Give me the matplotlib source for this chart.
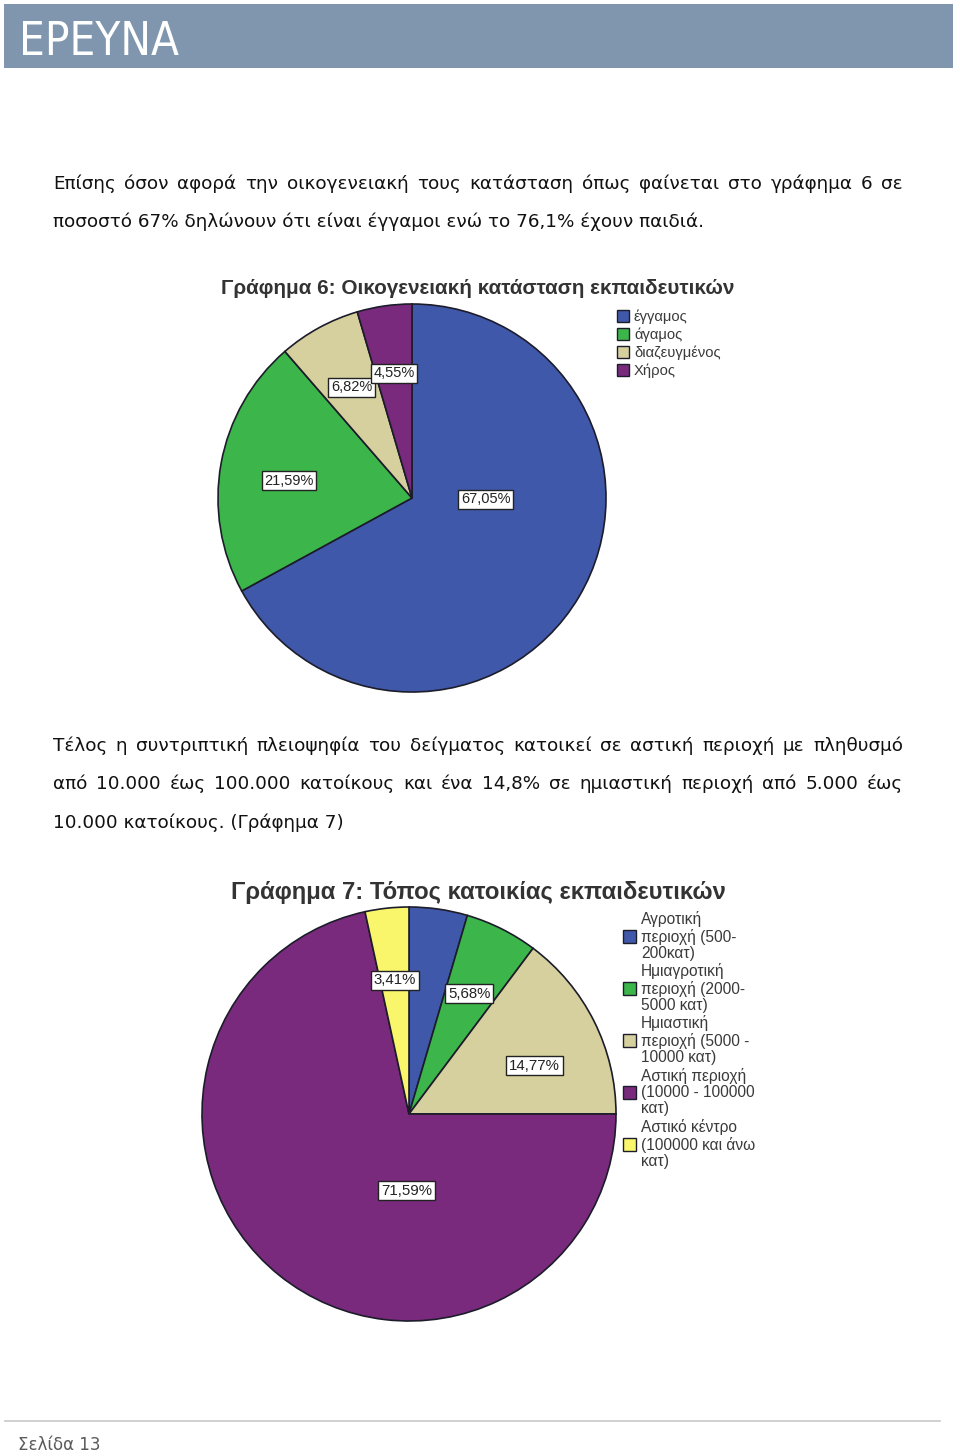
import numpy as np
import matplotlib
matplotlib.use('Agg')
from matplotlib import pyplot as plt
from matplotlib.patches import Rectangle

W, H = 960, 1456

# Γράφημα 6
marital_labels = ['έγγαμος', 'άγαμος', 'διαζευγμένος', 'Χήρος']
marital_pct = [67.05, 21.59, 6.82, 4.55]

# Γράφημα 7
place_labels = ['Αγροτική\nπεριοχή (500-\n200κατ)',
                'Ημιαγροτική\nπεριοχή (2000-\n5000 κατ)',
                'Ημιαστική\nπεριοχή (5000 -\n10000 κατ)',
                'Αστική περιοχή\n(10000 - 100000\nκατ)',
                'Αστικό κέντρο\n(100000 και άνω\nκατ)']
place_pct = [4.55, 5.68, 14.77, 71.59, 3.41]
place_shown = [False, True, True, True, True]

para1 = ['Επίσης όσον αφορά την οικογενειακή τους κατάσταση όπως φαίνεται στο γράφημα 6 σε',
         'ποσοστό 67% δηλώνουν ότι είναι έγγαμοι ενώ το 76,1% έχουν παιδιά.']
para2 = ['Τέλος η συντριπτική πλειοψηφία του δείγματος κατοικεί σε αστική περιοχή με πληθυσμό',
         'από 10.000 έως 100.000 κατοίκους και ένα 14,8% σε ημιαστική περιοχή από 5.000 έως',
         '10.000 κατοίκους. (Γράφημα 7)']

colors = ['#3f58aa', '#3cb54b', '#d5d09e', '#7a2a7d', '#f9f66c']
edge = '#1c1c2a'
chart_font = ['Liberation Sans', 'DejaVu Sans']

fig = plt.figure(figsize=(W / 100, H / 100), dpi=100)
renderer = fig.canvas.get_renderer()


def px(x, y):
    return x / W, 1 - y / H


# header band
fig.patches.append(Rectangle(px(4, 68), 949 / W, 64 / H, transform=fig.transFigure,
                             facecolor='#8096ae', edgecolor='none'))
head = fig.text(*px(19, 55), 'ΕΡΕΥΝΑ', color='white', fontsize=37, va='baseline',
                family='DejaVu Sans', fontstretch='condensed')
# squeeze to the page's narrow heading if no condensed face is around
hw = head.get_window_extent(renderer).width
if hw > 165:
    head.set_fontsize(37 * 160 / hw)

# body text, justified like the page
probe = fig.text(0, 0, para1[1], fontsize=14)
body_size = 14 * 654 / probe.get_window_extent(renderer).width
probe.remove()


def put_line(text, y, justify):
    x0, x1 = 53, 903
    if not justify:
        fig.text(*px(x0, y), text, fontsize=body_size, va='baseline', color='#111111')
        return
    words = text.split()
    arts = [fig.text(0, 0, w, fontsize=body_size, va='baseline', color='#111111') for w in words]
    widths = [a.get_window_extent(renderer).width for a in arts]
    gap = (x1 - x0 - sum(widths)) / (len(words) - 1)
    x = x0
    for a, w in zip(arts, widths):
        a.set_position(px(x, y))
        x += w + gap


put_line(para1[0], 189, True)
put_line(para1[1], 227, False)
put_line(para2[0], 751, True)
put_line(para2[1], 789, True)
put_line(para2[2], 828, False)


def draw_pie(cx, cy, r, values, cols, shown, spots, label_size):
    lim = 1.02
    ax = fig.add_axes([(cx - r * lim) / W, 1 - (cy + r * lim) / H, 2 * r * lim / W, 2 * r * lim / H])
    wedges, _ = ax.pie(values, colors=cols, startangle=90, counterclock=False,
                       wedgeprops=dict(edgecolor=edge, linewidth=1.2))
    ax.set_xlim(-lim, lim)
    ax.set_ylim(-lim, lim)
    cum = np.cumsum(values)
    for i, v in enumerate(values):
        if not shown[i]:
            continue
        ang, d = spots.get(i, (360 * (cum[i] - v / 2) / 100, 0.65))
        t = np.radians(ang)
        ax.text(d * np.sin(t), d * np.cos(t), f'{v:.2f}%'.replace('.', ','),
                ha='center', va='center', fontsize=label_size, family=chart_font, color='#222222',
                bbox=dict(boxstyle='square,pad=0.18', facecolor='white', edgecolor='#222222', linewidth=1))
    return wedges


# Γράφημα 6
fig.text(*px(478, 289), 'Γράφημα 6: Οικογενειακή κατάσταση εκπαιδευτικών', ha='center', va='center',
         fontsize=14.9, fontweight='bold', family=chart_font, color='#333333')
draw_pie(412, 498, 194, marital_pct, colors[:4], [True] * 4, {0: (91, 0.38), 1: (278, 0.64)}, 10.5)
for i, lab in enumerate(marital_labels):
    yc = 316 + 18 * i
    fig.patches.append(Rectangle(px(617, yc + 6), 12 / W, 12 / H, transform=fig.transFigure,
                                 facecolor=colors[i], edgecolor=edge, linewidth=1))
    fig.text(*px(634, yc + 1), lab, va='center', fontsize=10.6, family=chart_font, color='#3a3a3a')

# Γράφημα 7
fig.text(*px(478, 892), 'Γράφημα 7: Τόπος κατοικίας εκπαιδευτικών', ha='center', va='center',
         fontsize=17.2, fontweight='bold', family=chart_font, color='#333333')
draw_pie(409, 1114, 207, place_pct, colors, place_shown, {2: (69, 0.65), 3: (182, 0.37)}, 10.8)
for i, lab in enumerate(place_labels):
    yc = 936 + 52 * i
    fig.patches.append(Rectangle(px(623, yc + 7), 13 / W, 13 / H, transform=fig.transFigure,
                                 facecolor=colors[i], edgecolor=edge, linewidth=1))
    fig.text(*px(641, yc), lab, va='center', fontsize=11.2, linespacing=1.1,
             family=chart_font, color='#3a3a3a')

# footer
fig.add_artist(plt.Line2D([5 / W, 940 / W], [1 - 1421 / H] * 2, transform=fig.transFigure,
                          color='#c8c8c8', linewidth=1.2))
fig.text(*px(18, 1450), 'Σελίδα 13', fontsize=12, va='baseline', color='#5a5a5a')

fig.savefig('out.png', dpi=100)
